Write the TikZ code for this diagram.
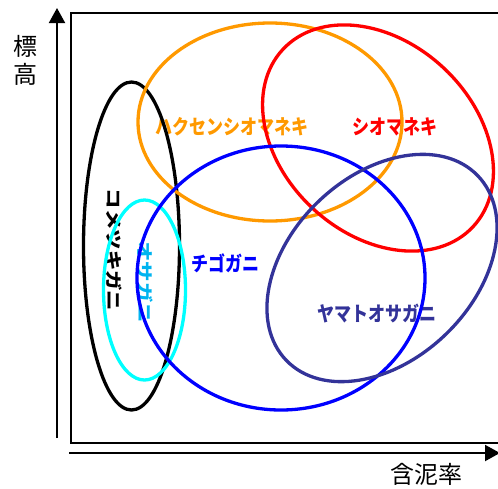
\documentclass[tikz,border=0pt]{standalone}
\usepackage{fontspec}
\newfontfamily\jpfont{Noto Sans CJK JP}
\newfontfamily\popfont{Noto Sans CJK JP}[UprightFont={* Black}]
\usetikzlibrary{arrows.meta}
\definecolor{shiored}{HTML}{FF0000}
\definecolor{hakuorange}{HTML}{FF9900}
\definecolor{chigoblue}{HTML}{0000FF}
\definecolor{yamatonavy}{HTML}{333399}
\definecolor{osacyan}{HTML}{00FFFF}
\definecolor{osatext}{HTML}{00B4F0}

\begin{document}
\begin{tikzpicture}[
  x=1pt, y=-1pt,
  axis/.style={line width=2pt, -{Triangle[length=15pt,width=16pt]}},
  frame/.style={line width=1.6pt},
  habitat/.style={line width=3.3pt},
  crab/.style={font=\popfont\fontsize{17}{17}\selectfont, inner sep=0pt, yscale=1.2},
  axislabel/.style={font=\jpfont\fontsize{24}{28}\selectfont, inner sep=0pt, align=center},
]
\useasboundingbox (0,0) rectangle (498,488);

% frame and axes
\draw[frame] (71,13) rectangle (512,443);
\coordinate (yfoot) at (57,438);
\coordinate (ytip)  at (57,8);
\coordinate (xfoot) at (69,453);
\coordinate (xtip)  at (500,453);
\draw[axis] (yfoot) -- (ytip);
\draw[axis] (xfoot) -- (xtip);
\node[axislabel] (elev) at (25,60)  {標\\高};
\node[axislabel] (mud)  at (426,474) {含泥率};

% species names
\node[crab, text=hakuorange] (haku)   at (232,127) {ハクセンシオマネキ};
\node[crab, text=shiored]    (shio)   at (395,127) {シオマネキ};
\node[crab, text=chigoblue]  (chigo)  at (225,263) {チゴガニ};
\node[crab, text=yamatonavy] (yamato) at (377,314) {ヤマトオサガニ};
\node[crab, rotate=-90]                  (kome) at (114,250) {コメツキガニ};
\node[crab, rotate=-90, text=osatext]    (osa)  at (145,282) {オサガニ};

% habitat ranges
\draw[habitat, black]      (131.5,246) ellipse [x radius=48, y radius=164];
\draw[habitat, osacyan]    (144.5,290) ellipse [x radius=41, y radius=90];
\draw[habitat, hakuorange] (270,122) ellipse [x radius=132, y radius=99];
\begin{scope}[rotate around={-43:(378,138)}]
  \draw[habitat, shiored] (378,138) ellipse [x radius=130, y radius=96];
\end{scope}
\draw[habitat, chigoblue]  (281,278) ellipse [x radius=144, y radius=132];
\begin{scope}[rotate around={44:(382,268)}]
  \draw[habitat, yamatonavy] (382,268) ellipse [x radius=133, y radius=92];
\end{scope}
\end{tikzpicture}
\end{document}
